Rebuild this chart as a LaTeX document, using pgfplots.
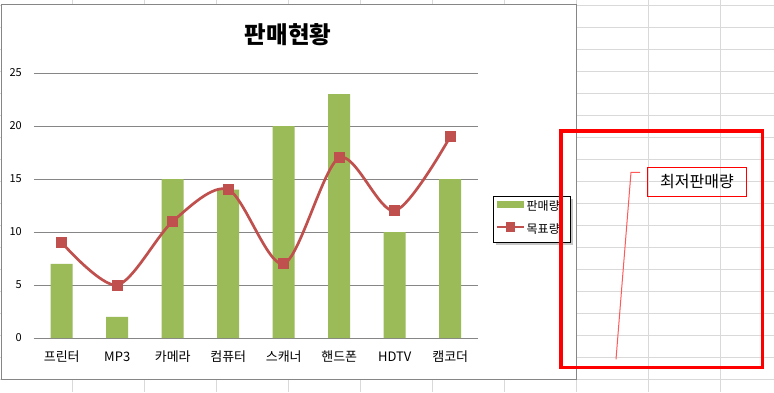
\documentclass[border=0pt]{standalone}
\usepackage{fontspec}
\setmainfont{Noto Sans CJK KR}
\usepackage{pgfplots}
\pgfplotsset{compat=1.18}
\definecolor{barg}{HTML}{9BBB59}
\definecolor{liner}{HTML}{C0504D}
\definecolor{axgray}{HTML}{868686}
\definecolor{cellgrid}{HTML}{D9D9D9}
\begin{document}
\begin{tikzpicture}[x=1pt,y=1pt]
\path[use as bounding box] (0,0) rectangle (774,392);
\fill[white] (0,0) rectangle (774,392);
% spreadsheet grid
\foreach \k in {0,...,17} {\draw[cellgrid, line width=0.8pt] (0,386.7-22*\k) -- (774,386.7-22*\k);}
\foreach \k in {1,...,10} {\draw[cellgrid, line width=0.8pt] (72*\k,0) -- (72*\k,392);}
% chart area
\filldraw[fill=white, draw=axgray, line width=1pt] (1,387) rectangle (576,13);
% title
\node[font=\fontsize{23.5}{26}\selectfont\bfseries] at (288,357) {판매현황};
% legend frame and shadow
\fill[gray!45] (496,193) rectangle (573,147);
\filldraw[fill=white, draw=black, line width=0.9pt] (493,196) rectangle (570,150);
\begin{axis}[
  at={(34pt,54pt)}, anchor=south west,
  scale only axis, width=444pt, height=265pt,
  xmin=-0.5, xmax=7.5, ymin=0, ymax=25,
  xtick={0,...,7},
  xticklabels={프린터,MP3,카메라,컴퓨터,스캐너,핸드폰,HDTV,캠코더},
  ytick={0,5,10,15,20,25},
  ymajorgrids, grid style={axgray, line width=0.9pt},
  axis y line*=left, axis x line*=bottom,
  y axis line style={draw=none},
  x axis line style={axgray, line width=0.9pt, -},
  major tick length=0pt,
  /pgf/number format/assume math mode=true,
  tick label style={font=\fontsize{11}{13}\selectfont},
  xticklabel style={font=\fontsize{13}{15}\selectfont, anchor=north, inner sep=0pt, yshift=-13pt, text height=10pt, text depth=2pt},
  yticklabel style={anchor=east, inner sep=0pt, xshift=-12pt},
  legend style={at={(1.0394,0.5245)}, anchor=north west, draw=none, fill=none,
    inner sep=0pt, row sep=7pt,
    nodes={font=\fontsize{12}{14}\selectfont, text height=9pt, text depth=3pt, inner ysep=2pt, inner xsep=1.5pt}},
  legend cell align=left,
]
\addplot[ybar, bar width=22pt, fill=barg, draw=none,
  legend image code/.code={\fill[barg] (0pt,-0.5pt) rectangle (27pt,6.5pt);}]
  coordinates {(0,7) (1,2) (2,15) (3,14) (4,20) (5,23) (6,10) (7,15)};
\addlegendentry{판매량}
\addplot[smooth, color=liner, line width=2.7pt, mark=square*, mark size=5pt,
  mark options={fill=liner, draw=none, line width=0pt},
  legend image code/.code={\draw[line width=2.5pt, color=liner] (0pt,3pt) -- (27pt,3pt);
    \fill[liner] (10pt,-0.5pt) rectangle (17pt,6.5pt);}]
  coordinates {(0,9) (1,5) (2,11) (3,14) (4,7) (5,17) (6,12) (7,19)};
\addlegendentry{목표량}
\end{axis}
% callout
\node[draw=red, line width=1pt, minimum width=99.4pt, minimum height=28.3pt, inner sep=0pt,
  font=\fontsize{16}{18}\selectfont] at (697,210.1) {최저판매량};
\draw[red!65, line width=1pt] (640,219.7) -- (631,219.7) -- (616,32.7);
% red highlight rectangle
\draw[red, line width=3.3pt] (561,261) rectangle (762.3,24.3);
\end{tikzpicture}
\end{document}
